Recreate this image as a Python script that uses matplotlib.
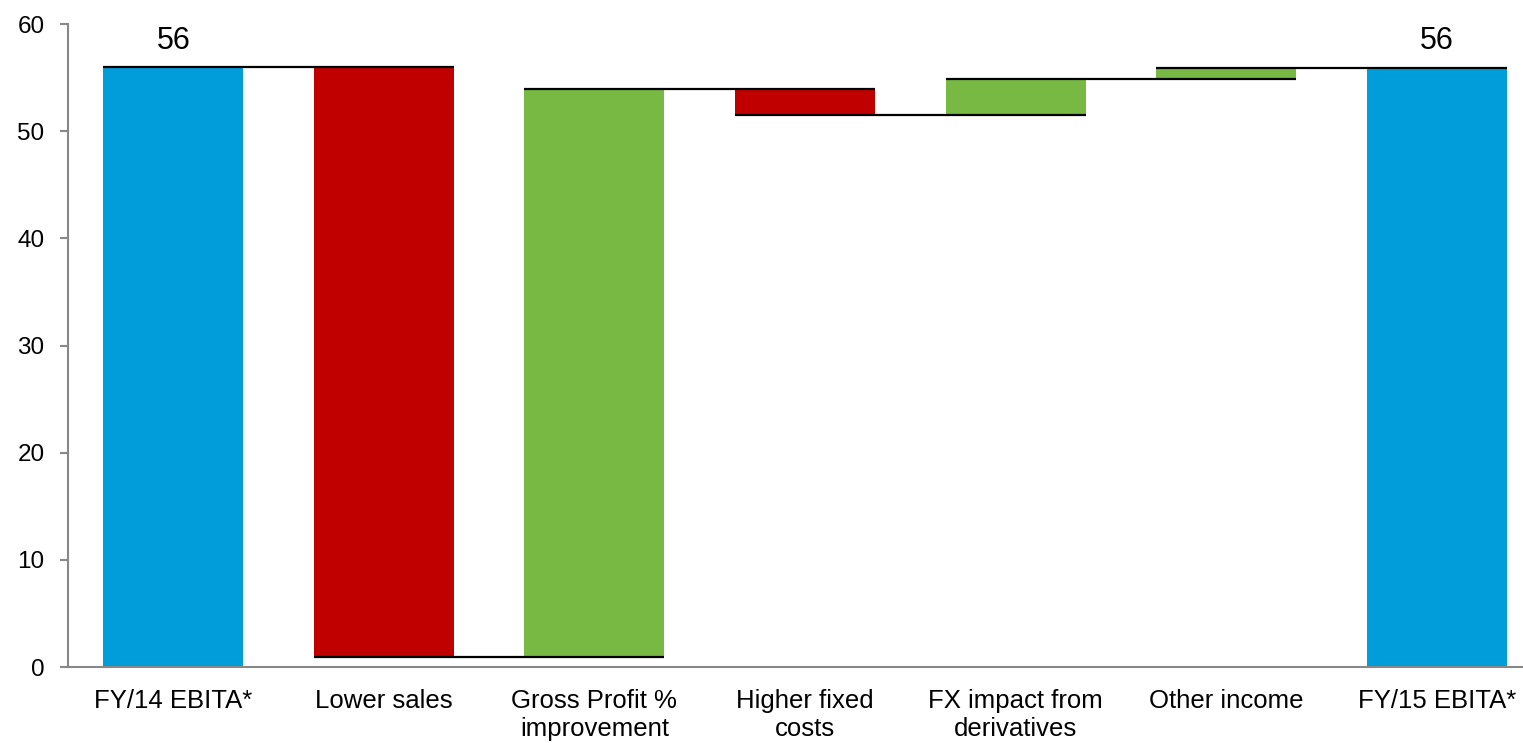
import matplotlib
matplotlib.use("Agg")
import matplotlib.pyplot as plt

# waterfall data (EUR m)
categories = ["FY/14 EBITA*", "Lower sales", "Gross Profit %\nimprovement",
              "Higher fixed\ncosts", "FX impact from\nderivatives", "Other income",
              "FY/15 EBITA*"]
start_value = 56.0
changes = [-55.1, 53.0, -2.4, 3.4, 1.0]
end_value = 55.9
total_labels = ["56", "56"]

blue = "#009DDB"
red = "#C00000"
green = "#77B943"

plt.rcParams["font.family"] = ["Liberation Sans", "DejaVu Sans"]

# bar bottoms / heights
bottoms, heights, colors = [0], [start_value], [blue]
level = start_value
levels = [start_value]
for c in changes:
    new = level + c
    bottoms.append(min(level, new))
    heights.append(abs(c))
    colors.append(green if c > 0 else red)
    level = new
    levels.append(level)
bottoms.append(0)
heights.append(end_value)
colors.append(blue)

fig = plt.figure(figsize=(15.23, 7.43), dpi=100)
ax = fig.add_axes([68 / 1523, 76 / 743, 1 - 68 / 1523, (667 - 24) / 743])

x = list(range(len(categories)))
w = 0.665
ax.bar(x, heights, bottom=bottoms, color=colors, width=w, zorder=2)

# connectors
for i, lv in enumerate(levels):
    ax.hlines(lv, i - w / 2, i + 1 + w / 2, color="black", lw=1.6, zorder=3)

ax.text(0, start_value + 1.7, total_labels[0], ha="center", va="baseline", fontsize=22)
ax.text(len(categories) - 1, end_value + 1.8, total_labels[1], ha="center", va="baseline", fontsize=22)

ax.set_xlim(-0.5, 6.41)
ax.set_ylim(0, 60)
ax.set_yticks(range(0, 61, 10))
ax.tick_params(axis="y", labelsize=17.5, color="#888888", length=6, width=1.5, pad=11)
ax.set_xticks(x)
ax.set_xticklabels(categories, fontsize=18.5, linespacing=1.22)
ax.tick_params(axis="x", length=0, pad=16)
for s in ["top", "right"]:
    ax.spines[s].set_visible(False)
for s in ["left", "bottom"]:
    ax.spines[s].set_color("#888888")
    ax.spines[s].set_linewidth(1.5)

fig.savefig("out.png", dpi=100)
